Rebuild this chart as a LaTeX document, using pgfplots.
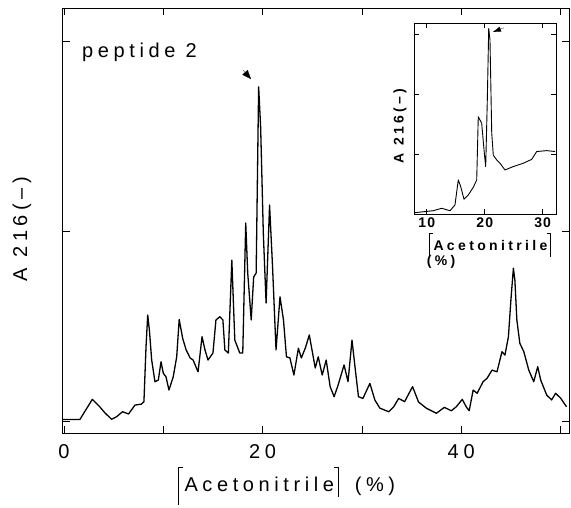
\documentclass[border=0pt]{standalone}
\usepackage{fontspec}
\setmainfont{Liberation Sans}
\newfontfamily\spfont[LetterSpace=23]{Liberation Sans}
\newfontfamily\tkfont[LetterSpace=24]{Liberation Sans}
\newfontfamily\bsfont[LetterSpace=24]{Liberation Sans Bold}
\newfontfamily\bdfont[LetterSpace=8]{Liberation Sans Bold}
\usepackage{pgfplots}
\pgfplotsset{compat=1.18}
\usetikzlibrary{arrows.meta}

\newcommand\bigtxt{\fontsize{20}{22}\selectfont}
\newcommand\lbr[3]{\rule[-#2]{0.8pt}{#1}\rule[\dimexpr#1-#2-0.8pt\relax]{#3}{0.8pt}}
\newcommand\rbr[3]{\rule[\dimexpr#1-#2-0.8pt\relax]{#3}{0.8pt}\rule[-#2]{0.8pt}{#1}}

\pgfplotstableread{
x y
-0.15 0.008
1.6 0.008
2.85 0.114
3.6 0.075
4.1 0.044
4.8 0.009
5.3 0.023
5.9 0.049
6.5 0.037
7.15 0.084
7.8 0.089
8.05 0.102
8.26 0.391
8.43 0.558
8.6 0.479
8.83 0.321
9.16 0.207
9.5 0.216
9.77 0.312
10.0 0.251
10.27 0.233
10.57 0.163
11.0 0.233
11.35 0.338
11.6 0.535
11.95 0.435
12.3 0.374
12.7 0.332
13.0 0.321
13.5 0.259
13.9 0.444
14.2 0.374
14.5 0.321
15.0 0.358
15.3 0.532
15.7 0.549
16.0 0.532
16.2 0.374
16.55 0.358
16.9 0.847
17.2 0.426
17.7 0.358
18.0 0.358
18.3 1.042
18.5 0.779
18.85 0.532
19.1 0.758
19.35 0.779
19.6 1.759
19.8 1.549
20.07 0.989
20.35 0.621
20.7 1.137
21.0 0.812
21.35 0.374
21.75 0.654
22.1 0.532
22.4 0.338
22.75 0.332
23.15 0.242
23.6 0.383
23.9 0.332
24.3 0.384
24.7 0.453
25.3 0.279
25.6 0.338
26.0 0.242
26.4 0.321
26.8 0.181
27.2 0.128
27.6 0.189
28.2 0.295
28.6 0.207
29.0 0.426
29.3 0.286
29.65 0.128
30.1 0.119
30.8 0.198
31.3 0.111
31.8 0.068
32.7 0.049
33.2 0.075
33.7 0.119
34.3 0.102
35.1 0.181
35.7 0.100
36.5 0.067
37.5 0.041
38.3 0.072
39.0 0.054
39.5 0.075
40.1 0.114
40.5 0.075
40.8 0.054
41.2 0.163
41.6 0.146
42.2 0.207
42.6 0.225
43.1 0.268
43.6 0.259
44.1 0.365
44.4 0.347
44.75 0.444
45.0 0.637
45.25 0.804
45.4 0.742
45.6 0.532
45.9 0.409
46.3 0.365
46.8 0.268
47.3 0.207
47.7 0.286
48.0 0.216
48.6 0.137
49.1 0.111
49.5 0.146
50.0 0.121
50.6 0.075
}\maintrace

\pgfplotstableread{
x y
7.97 0.022
11.13 0.055
12.58 0.095
14.01 0.055
14.87 0.15
15.44 0.567
15.86 0.455
16.43 0.245
17.17 0.317
18.03 0.445
18.62 0.567
18.89 1.62
19.48 1.51
19.88 1.07
20.17 0.79
20.45 1.9
20.69 3.09
20.91 2.9
21.21 1.35
21.48 0.98
22.07 0.9
22.64 0.845
23.50 0.733
24.93 0.79
26.66 0.845
28.11 0.91
28.97 1.04
30.70 1.055
32.13 1.04
}\insettrace

\begin{document}
\begin{tikzpicture}[x=1pt,y=1pt]
\begin{axis}[
  at={(0pt,0pt)}, anchor=south west,
  scale only axis, width=506.5pt, height=425pt,
  xmin=-0.15, xmax=50.85, ymin=-0.063, ymax=2.174,
  xtick={0,10,...,50}, xticklabels={0,,20,,40,},
  ytick={0,1,2}, yticklabels={},
  tick align=inside, major tick length=7pt,
  tick style={black, line width=0.6pt},
  axis line style={line width=0.6pt},
  xticklabel style={font=\tkfont\bigtxt, yshift=-8pt},
]
\addplot[black, line width=1.3pt, line join=round] table {\maintrace};
\draw[-{Triangle[length=9pt,width=7pt]}, line width=0.2pt] (axis cs:18.03,1.847) -- (axis cs:18.83,1.80);
\end{axis}

\begin{axis}[
  at={(351.5pt,219pt)}, anchor=south west,
  scale only axis, width=142pt, height=191pt,
  xmin=7.8, xmax=32.3, ymin=0, ymax=3.18,
  xtick={10,20,30}, xticklabels={10,20,30},
  ytick={1,2,3}, yticklabels={},
  tick align=inside, major tick length=5pt,
  tick style={black, line width=0.6pt},
  axis line style={line width=0.7pt},
  axis background/.style={fill=white},
  xticklabel style={font=\bdfont\fontsize{14}{15}\selectfont},
]
\addplot[black, line width=0.9pt, line join=round] table {\insettrace};
\draw[-{Triangle[length=8pt,width=5pt]}, line width=0.2pt] (axis cs:23.33,3.1) -- (axis cs:21.43,3.03);
\end{axis}

\node[anchor=base west, inner sep=0pt] at (19.5,375) {\spfont\bigtxt peptide 2};
\node[anchor=base west, inner sep=0pt] at (115,-59) {\spfont\bigtxt\lbr{38pt}{13pt}{4pt}\kern2pt Acetonitrile\rbr{30pt}{5pt}{4pt}\kern16pt(\%)};
\node[rotate=90, inner sep=0pt] at (-40.5,204) {\spfont\bigtxt A 216(–)};

\node[anchor=base, inner sep=0pt] at (427.5,182) {\bsfont\fontsize{14}{15}\selectfont\lbr{24pt}{6pt}{3pt}\kern1pt Acetonitrile\rbr{24pt}{6pt}{3pt}};
\node[anchor=base, inner sep=0pt] at (378.5,167) {\bsfont\fontsize{14}{15}\selectfont(\%)};
\node[rotate=90, inner sep=0pt] at (337.5,307) {\bsfont\fontsize{14}{15}\selectfont A 216(–)};

\pgfresetboundingbox
\path (-62.5,-75) rectangle (508.5,433);
\end{tikzpicture}
\end{document}
